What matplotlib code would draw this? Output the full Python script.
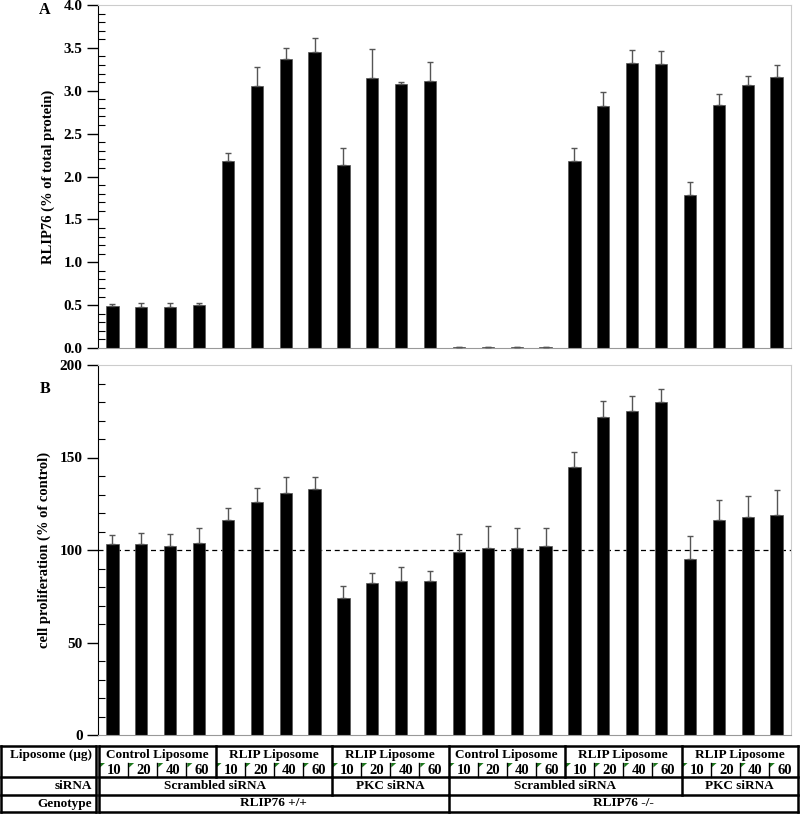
import numpy as np
import matplotlib.pyplot as plt
from matplotlib.patches import Polygon
from matplotlib.ticker import MultipleLocator, FormatStrFormatter

plt.rcParams['font.family'] = ['Liberation Serif', 'DejaVu Serif']
plt.rcParams['font.weight'] = 'bold'

# --- data (24 bars, left to right) ---
doses = ['10', '20', '40', '60']
liposome_groups = ['Control Liposome', 'RLIP Liposome', 'RLIP Liposome',
                   'Control Liposome', 'RLIP Liposome', 'RLIP Liposome']
sirna_groups = ['Scrambled siRNA', 'PKC siRNA', 'Scrambled siRNA', 'PKC siRNA']
sirna_spans = [8, 4, 8, 4]
genotype_groups = ['RLIP76 +/+', 'RLIP76 -/-']
genotype_spans = [12, 12]

rlip_level = [0.49, 0.48, 0.48, 0.50, 2.18, 3.06, 3.37, 3.45, 2.13, 3.15, 3.08, 3.11,
              0.015, 0.012, 0.015, 0.012, 2.18, 2.82, 3.32, 3.31, 1.79, 2.83, 3.07, 3.16]
rlip_err = [0.02, 0.04, 0.04, 0.03, 0.09, 0.22, 0.13, 0.17, 0.20, 0.34, 0.02, 0.22,
            0.0, 0.0, 0.0, 0.0, 0.15, 0.16, 0.16, 0.15, 0.15, 0.13, 0.10, 0.14]

prolif = [103, 103, 102, 104, 116, 126, 131, 133, 74, 82, 83, 83,
          99, 101, 101, 102, 145, 172, 175, 180, 95, 116, 118, 119]
prolif_err = [5.3, 6.2, 6.6, 8.1, 6.5, 7.4, 8.6, 6.3, 6.7, 5.4, 7.6, 5.9,
              9.5, 11.9, 11.0, 9.9, 8.1, 8.8, 8.1, 7.2, 12.8, 10.8, 11.2, 13.3]

W, H = 800, 816
fig = plt.figure(figsize=(W / 100, H / 100), dpi=100)

x = np.arange(len(prolif))


def style_axis(ax):
    ax.set_xlim(-0.5, len(x) - 0.5)
    ax.set_xticks([])
    ax.spines['left'].set_color('black')
    ax.spines['bottom'].set_color('#999999')
    ax.spines['top'].set_color('#cccccc')
    ax.spines['right'].set_color('#cccccc')
    ax.tick_params(axis='y', which='major', direction='out', length=8, width=1,
                   labelsize=11, pad=3)
    ax.tick_params(axis='y', which='minor', direction='in', length=5, width=0.8)
    for lab in ax.get_yticklabels():
        lab.set_fontweight('bold')


def draw_bars(ax, vals, errs):
    ax.bar(x, vals, width=0.42, color='black', edgecolor='#555555', linewidth=0.5, zorder=2)
    ax.errorbar(x, vals, yerr=[np.zeros(len(errs)), errs], fmt='none', ecolor='#555555',
                elinewidth=1, capsize=2.5, capthick=1, zorder=3)


# panel A
axA = fig.add_axes([98 / W, 1 - 348 / H, 693 / W, 343 / H])
draw_bars(axA, rlip_level, rlip_err)
axA.set_ylim(0, 4.0)
axA.yaxis.set_major_locator(MultipleLocator(0.5))
axA.yaxis.set_minor_locator(MultipleLocator(0.1))
axA.yaxis.set_major_formatter(FormatStrFormatter('%.1f'))
style_axis(axA)
axA.set_ylabel('RLIP76 (% of total protein)', fontsize=10.5, fontweight='bold', labelpad=6)
fig.text(45 / W, 1 - 10 / H, 'A', fontsize=11.5, fontweight='bold', ha='center', va='center')

# panel B
axB = fig.add_axes([98 / W, 1 - 735 / H, 693 / W, 370 / H])
axB.axhline(100, color='black', linestyle=(0, (4, 3)), linewidth=0.9, zorder=1)
draw_bars(axB, prolif, prolif_err)
axB.set_ylim(0, 200)
axB.yaxis.set_major_locator(MultipleLocator(50))
axB.yaxis.set_minor_locator(MultipleLocator(10))
style_axis(axB)
axB.set_ylabel('cell proliferation (% of control)', fontsize=10.5, fontweight='bold', labelpad=6)
fig.text(45 / W, 1 - 389 / H, 'B', fontsize=11.5, fontweight='bold', ha='center', va='center')

# --- table under the chart, drawn in pixel coordinates ---
tab = fig.add_axes([0, 0, 1, 78 / H])
tab.set_xlim(0, W)
tab.set_ylim(H, H - 78)
tab.axis('off')

left, right = 99, 798
cw = (right - left) / len(x)
y_top, y_num, y_r1, y_r2, y_bot = 746, 763, 777, 795, 812
thick = 1.8
fs = 9.5
fs_num = 10.5

# left label column
for y in (y_top, y_r1, y_r2, y_bot):
    tab.plot([1, 96], [y, y], color='black', lw=thick, solid_capstyle='projecting')
for xx in (1, 96):
    tab.plot([xx, xx], [y_top, y_bot], color='black', lw=thick, solid_capstyle='projecting')
tab.text(92, 755, 'Liposome (\u03bcg)', ha='right', va='center', fontsize=fs, fontweight='bold')
tab.text(92, 786, 'siRNA', ha='right', va='center', fontsize=fs, fontweight='bold')
tab.text(92, 803.5, 'Genotype', ha='right', va='center', fontsize=fs, fontweight='bold')

# right block outline
for y in (y_top, y_r1, y_r2, y_bot):
    tab.plot([left, right], [y, y], color='black', lw=thick, solid_capstyle='projecting')
for xx in (left, right):
    tab.plot([xx, xx], [y_top, y_bot], color='black', lw=thick, solid_capstyle='projecting')

# liposome row
for g, name in enumerate(liposome_groups):
    gx0 = left + g * 4 * cw
    if g > 0:
        tab.plot([gx0, gx0], [y_top, y_r1], color='black', lw=thick)
    tab.text(gx0 + 2 * cw, 755, name, ha='center', va='center', fontsize=fs, fontweight='bold')
    for k, d in enumerate(doses):
        cx0 = gx0 + k * cw
        if k > 0:
            tab.plot([cx0, cx0], [y_num, y_r1], color='black', lw=1.0)
        tab.add_patch(Polygon([(cx0 + 1, y_num), (cx0 + 6, y_num), (cx0 + 1, y_num + 4.5)],
                              closed=True, color='#1f7a1f', lw=0))
        tab.text(cx0 + cw / 2 + 1, 770.5, d, ha='center', va='center', fontsize=fs_num,
                 fontweight='bold')

# siRNA row
pos = 0
for name, span in zip(sirna_groups, sirna_spans):
    sx0 = left + pos * cw
    if pos > 0:
        tab.plot([sx0, sx0], [y_r1, y_r2], color='black', lw=thick)
    tab.text(sx0 + span * cw / 2, 786, name, ha='center', va='center', fontsize=fs,
             fontweight='bold')
    pos += span

# genotype row
pos = 0
for name, span in zip(genotype_groups, genotype_spans):
    gx0 = left + pos * cw
    if pos > 0:
        tab.plot([gx0, gx0], [y_r2, y_bot], color='black', lw=thick)
    tab.text(gx0 + span * cw / 2, 803.5, name, ha='center', va='center', fontsize=fs,
             fontweight='bold')
    pos += span

fig.savefig('out.png', dpi=100)
